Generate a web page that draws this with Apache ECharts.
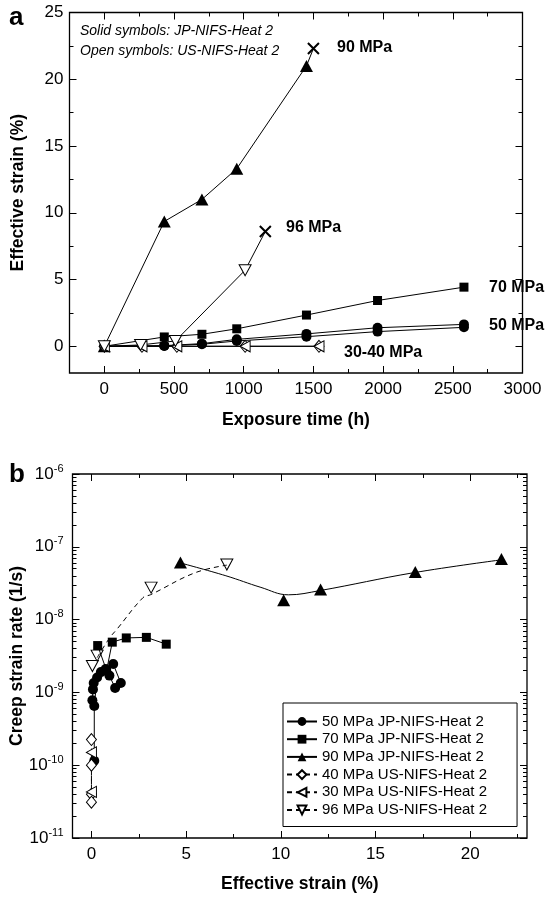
<!DOCTYPE html>
<html><head><meta charset="utf-8">
<script src="https://cdn.jsdelivr.net/npm/echarts@6/dist/echarts.min.js"></script>
<style>html,body{margin:0;padding:0;background:#fff}#c{width:548px;height:901px}</style>
</head><body><div id="c"></div>
<script>
// ---------- Panel a: [exposure time (h), effective strain (%)] ----------
const aJP50s1 = [[0,0],[430,0.05],[700,0.2],[950,0.52],[1450,0.93],[1960,1.39],[2580,1.64]];
const aJP50s2 = [[0,0],[430,0.03],[700,0.15],[950,0.4],[1450,0.72],[1960,1.1],[2580,1.42]];
const aJP70 = [[0,0],[430,0.7],[700,0.9],[950,1.31],[1450,2.34],[1960,3.43],[2580,4.43]];
const aJP90 = [[0,0],[430,9.35],[700,11.0],[950,13.3],[1450,21.0]];
const aJP90Rupture = [1500,22.3];
const aUS40 = [[0,0],[270,0],[520,0],[1010,0],[1540,0]];
const aUS30 = [[0,0],[270,0],[520,0],[1010,0],[1540,0]];
const aUS96 = [[0,0],[260,0.1],[510,0.4],[1010,5.7]];
const aUS96Rupture = [1155,8.6];
const aXLabels = [0,500,1000,1500,2000,2500,3000];
const aXMinor = [250,750,1250,1750,2250,2750];
const aYLabels = [0,5,10,15,20,25];
const aYMinor = [2.5,7.5,12.5,17.5,22.5];

// ---------- Panel b: [effective strain (%), creep strain rate (1/s)] ----------
const bJP50s1 = [[0.15,1.15e-10],[0.15,6.5e-10],[0.3,1.6e-9],[0.75,2.1e-9],[1.15,2.45e-9],[1.55,1.35e-9]];
const bJP50s2 = [[0.05,7.8e-10],[0.08,1.1e-9],[0.12,1.35e-9],[0.5,1.9e-9],[0.95,1.7e-9],[1.25,1.15e-9]];
const bJP70 = [[0.33,4.4e-9],[0.8,2.0e-9],[1.1,4.9e-9],[1.84,5.6e-9],[2.9,5.7e-9],[3.95,4.6e-9]];
const bJP90 = [[4.7,6.1e-8],[10.15,1.85e-8],[12.1,2.6e-8],[17.1,4.5e-8],[21.65,6.8e-8]];
const bJP90Fit = [[4.7,6.0e-8],[7.1,4.0e-8],[8.95,2.77e-8],[10.4,2.19e-8],[12.05,2.5e-8],[17.0,4.4e-8],[21.6,6.6e-8]];
const bUS40 = [[0,2.25e-10],[0,1.0e-10],[0,4.0e-11],[0,3.1e-11]];
const bUS30 = [[0,1.5e-10],[0,4.3e-11]];
const bUS96 = [[0.05,2.3e-9],[0.3,3.2e-9],[3.15,2.75e-8],[7.15,5.7e-8]];
const bUS96Fit = [[0.3,3.0e-9],[0.96,5.6e-9],[1.35,7.4e-9],[2.72,2.0e-8],[3.13,2.2e-8],[5.47,4.4e-8],[7.15,5.6e-8]];
const bXLabels = [0,5,10,15,20];
const bXMinor = [2.5,7.5,12.5,17.5,22.5];
const bYDecades = [-11,-10,-9,-8,-7,-6];

const names = ['50 MPa JP-NIFS-Heat 2','70 MPa JP-NIFS-Heat 2','90 MPa JP-NIFS-Heat 2',
  '40 MPa US-NIFS-Heat 2','30 MPa US-NIFS-Heat 2','96 MPa US-NIFS-Heat 2'];

const FONT = "'Liberation Sans', Arial, Helvetica, sans-serif";
const bYMinor = [];
for (let n = -11; n < -6; n++) for (let k = 2; k <= 9; k++) bYMinor.push(n + Math.log10(k));

function deco(grid, pos, min, max, vals, len) {
  return { type:'value', gridIndex:grid, position:pos, min:min, max:max, silent:true,
    axisLine:{show:false, onZero:false}, splitLine:{show:false}, axisLabel:{show:false},
    axisTick:{show:true, inside:true, length:len, customValues:vals, lineStyle:{color:'#000', width:1}} };
}
const MAJ = 7, MIN = 4;
const X_SYM = 'path://M0,0L10,10M0,10L10,0';
const plain = function (v) { return String(v); };

const solid = {color:'#000', opacity:1};
const open = {color:'#fff', borderColor:'#000', borderWidth:1, opacity:1};
const lineSolid = {color:'#000', width:1};
const lineDash = {color:'#000', width:1, type:[5,4]};

function rupture(p) {
  return {value:p, symbol:X_SYM, symbolSize:11, symbolRotate:0,
    itemStyle:{color:'none', borderColor:'#000', borderWidth:2}};
}
function aSeries(data, symbol, size, style, rot) {
  return {type:'line', xAxisIndex:0, yAxisIndex:0, data:data, symbol:symbol, symbolSize:size,
    symbolRotate:rot||0, itemStyle:style, lineStyle:lineSolid, showSymbol:true, z:3};
}

const option = {
  animation:false,
  textStyle:{fontFamily:FONT},
  grid:[
    {left:69.5, top:12.5, width:453, height:360.5, show:true, borderColor:'#000', borderWidth:1.3,
      backgroundColor:'transparent', containLabel:false, outerBoundsMode:'none'},
    {left:72.5, top:474, width:454.5, height:364, show:true, borderColor:'#000', borderWidth:1.3,
      backgroundColor:'transparent', containLabel:false, outerBoundsMode:'none'}
  ],
  xAxis:[
    {type:'value', gridIndex:0, position:'bottom', min:-250, max:3000,
      axisLine:{show:false, onZero:false}, splitLine:{show:false},
      axisTick:{show:true, inside:true, length:MAJ, customValues:aXLabels, lineStyle:{color:'#000'}},
      axisLabel:{customValues:aXLabels, formatter:plain, fontSize:17, color:'#000', margin:8, fontFamily:FONT},
      name:'Exposure time (h)', nameLocation:'middle', nameGap:38, nameMoveOverlap:false,
      nameTextStyle:{fontSize:17.5, fontWeight:'bold', color:'#000', fontFamily:FONT, verticalAlign:'top'}},
    deco(0,'bottom',-250,3000,aXMinor,MIN),
    deco(0,'top',-250,3000,aXLabels,MAJ),
    deco(0,'top',-250,3000,aXMinor,MIN),
    {type:'value', gridIndex:1, position:'bottom', min:-1, max:23,
      axisLine:{show:false, onZero:false}, splitLine:{show:false},
      axisTick:{show:true, inside:true, length:MAJ, customValues:bXLabels, lineStyle:{color:'#000'}},
      axisLabel:{customValues:bXLabels, formatter:plain, fontSize:17, color:'#000', margin:8, fontFamily:FONT},
      name:'Effective strain (%)', nameLocation:'middle', nameGap:37, nameMoveOverlap:false,
      nameTextStyle:{fontSize:17.5, fontWeight:'bold', color:'#000', fontFamily:FONT, verticalAlign:'top'}},
    deco(1,'bottom',-1,23,bXMinor,MIN),
    deco(1,'top',-1,23,bXLabels,MAJ),
    deco(1,'top',-1,23,bXMinor,MIN)
  ],
  yAxis:[
    {type:'value', gridIndex:0, position:'left', min:-2, max:25,
      axisLine:{show:false, onZero:false}, splitLine:{show:false},
      axisTick:{show:true, inside:true, length:MAJ, customValues:aYLabels, lineStyle:{color:'#000'}},
      axisLabel:{customValues:aYLabels, formatter:plain, fontSize:17, color:'#000', margin:6, fontFamily:FONT},
      name:'Effective strain (%)', nameLocation:'middle', nameGap:42, nameMoveOverlap:false,
      nameTextStyle:{fontSize:17.5, fontWeight:'bold', color:'#000', fontFamily:FONT}},
    deco(0,'left',-2,25,aYMinor,MIN),
    deco(0,'right',-2,25,aYLabels,MAJ),
    deco(0,'right',-2,25,aYMinor,MIN),
    {type:'log', logBase:10, gridIndex:1, position:'left', min:1e-11, max:1e-6, splitNumber:5,
      axisLine:{show:false, onZero:false}, splitLine:{show:false}, axisTick:{show:false},
      axisLabel:{color:'#000', margin:9, fontFamily:FONT,
        formatter:function(v){ const e = Math.round(Math.log10(v)); return '{b|10}{s|' + e + '}'; },
        rich:{b:{fontSize:17, lineHeight:22, fontFamily:FONT, color:'#000'},
              s:{fontSize:11, lineHeight:12, verticalAlign:'top', fontFamily:FONT, color:'#000'}}},
      name:'Creep strain rate (1/s)', nameLocation:'middle', nameGap:46, nameMoveOverlap:false,
      nameTextStyle:{fontSize:17.5, fontWeight:'bold', color:'#000', fontFamily:FONT}},
    deco(1,'left',-11,-6,bYDecades,MAJ),
    deco(1,'left',-11,-6,bYMinor,MIN),
    deco(1,'right',-11,-6,bYDecades,MAJ),
    deco(1,'right',-11,-6,bYMinor,MIN)
  ],
  legend:{
    data:names, orient:'vertical', left:283, top:703,
    padding:[10,30,8,3], itemWidth:30, itemHeight:11, itemGap:0.7,
    borderColor:'#000', borderWidth:1, backgroundColor:'#fff',
    textStyle:{fontSize:15, lineHeight:17, color:'#000', fontFamily:FONT},
    selectedMode:false
  },
  series:[
    // Panel a
    aSeries(aJP50s1,'circle',10,solid),
    aSeries(aJP50s2,'circle',10,solid),
    aSeries(aJP70,'rect',9,solid),
    aSeries(aJP90.concat([rupture(aJP90Rupture)]),'triangle',[13,12],solid),
    aSeries(aUS40,'diamond',[10,12],open),
    aSeries(aUS30,'triangle',[11,10],open,90),
    aSeries(aUS96.concat([rupture(aUS96Rupture)]),'triangle',[12,11],open,180),
    // Panel b
    {name:names[0], type:'line', xAxisIndex:4, yAxisIndex:4, data:bJP50s1, symbol:'circle', symbolSize:10, itemStyle:solid, lineStyle:lineSolid},
    {name:names[0], type:'line', xAxisIndex:4, yAxisIndex:4, data:bJP50s2, symbol:'circle', symbolSize:10, itemStyle:solid, lineStyle:lineSolid},
    {name:names[1], type:'line', xAxisIndex:4, yAxisIndex:4, data:bJP70, symbol:'rect', symbolSize:9, itemStyle:solid, lineStyle:lineSolid},
    {name:names[2], type:'line', xAxisIndex:4, yAxisIndex:4, data:bJP90Fit, smooth:0.4, showSymbol:false, symbol:'triangle', itemStyle:solid, lineStyle:lineSolid},
    {name:names[2], type:'scatter', xAxisIndex:4, yAxisIndex:4, data:bJP90, symbol:'triangle', symbolSize:[13,12], itemStyle:solid},
    {name:names[3], type:'line', xAxisIndex:4, yAxisIndex:4, data:bUS40, symbol:'diamond', symbolSize:[10,12], itemStyle:open, lineStyle:lineDash},
    {name:names[4], type:'line', xAxisIndex:4, yAxisIndex:4, data:bUS30, symbol:'triangle', symbolRotate:90, symbolSize:[11,10], itemStyle:open, lineStyle:lineDash},
    {name:names[5], type:'line', xAxisIndex:4, yAxisIndex:4, data:bUS96Fit, smooth:0.4, showSymbol:false, symbol:'triangle', symbolRotate:180, itemStyle:open, lineStyle:lineDash},
    {name:names[5], type:'scatter', xAxisIndex:4, yAxisIndex:4, data:bUS96, symbol:'triangle', symbolRotate:180, symbolSize:[12,11], itemStyle:open}
  ],
  graphic:[
    {type:'text', left:9, top:5, style:{text:'a', font:"bold 26px " + FONT, fill:'#000'}},
    {type:'text', left:9, top:462, style:{text:'b', font:"bold 26px " + FONT, fill:'#000'}},
    {type:'text', left:80, top:24, style:{text:'Solid symbols: JP-NIFS-Heat 2', font:"italic 14px " + FONT, fill:'#000'}},
    {type:'text', left:80, top:44, style:{text:'Open symbols: US-NIFS-Heat 2', font:"italic 14px " + FONT, fill:'#000'}},
    {type:'text', left:337, top:40, style:{text:'90 MPa', font:"bold 16px " + FONT, fill:'#000'}},
    {type:'text', left:286, top:220, style:{text:'96 MPa', font:"bold 16px " + FONT, fill:'#000'}},
    {type:'text', left:489, top:280, style:{text:'70 MPa', font:"bold 16px " + FONT, fill:'#000'}},
    {type:'text', left:489, top:318, style:{text:'50 MPa', font:"bold 16px " + FONT, fill:'#000'}},
    {type:'text', left:344, top:345, style:{text:'30-40 MPa', font:"bold 16px " + FONT, fill:'#000'}}
  ]
};
const chart = echarts.init(document.getElementById('c'));
chart.setOption(option);
</script>
</body></html>
